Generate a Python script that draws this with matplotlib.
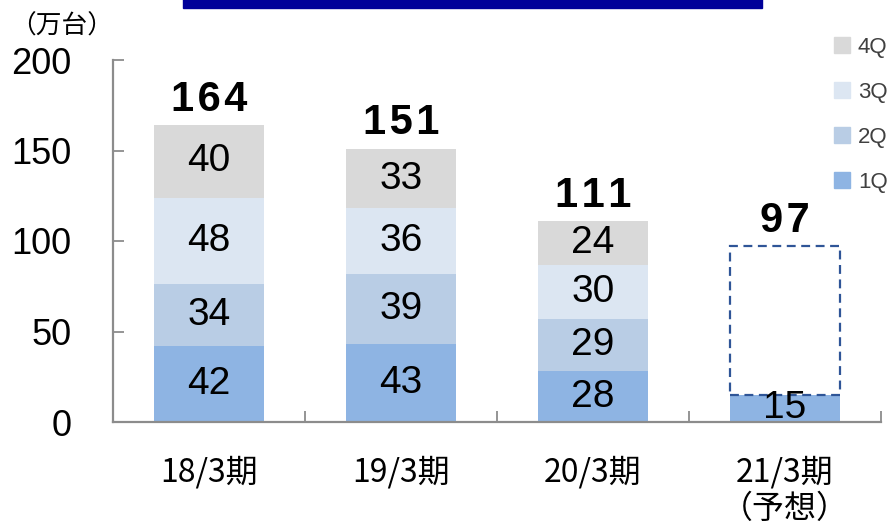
import matplotlib.pyplot as plt
from matplotlib.patches import Rectangle, Patch

plt.rcParams['font.family'] = ['Liberation Sans', 'Noto Sans CJK JP', 'DejaVu Sans']

periods = ['18/3期', '19/3期', '20/3期', '21/3期\n（予想）']
quarters = ['1Q', '2Q', '3Q', '4Q']
q1 = [42, 43, 28, 15]
q2 = [34, 39, 29, 0]
q3 = [48, 36, 30, 0]
q4 = [40, 33, 24, 0]
totals = [164, 151, 111, 97]
forecast_total = 97

colors = ['#8EB4E3', '#B9CDE5', '#DCE6F2', '#D9D9D9']

fig = plt.figure(figsize=(8.94, 5.25), dpi=100)
ax = fig.add_axes([113 / 894, 103 / 525, 768 / 894, 362 / 525])

x = list(range(len(periods)))
width = 0.573
bottom = [0] * len(periods)
for vals, col in zip([q1, q2, q3, q4], colors):
    ax.bar(x, vals, width, bottom=bottom, color=col, linewidth=0)
    for xi, v, b in zip(x, vals, bottom):
        if v > 0:
            ax.text(xi, b + v / 2, str(v), ha='center', va='center',
                    fontsize=28, color='black')
    bottom = [b + v for b, v in zip(bottom, vals)]

# forecast outline for the remaining quarters
ax.bar(x[3], forecast_total - q1[3], width, bottom=q1[3], fill=False,
       edgecolor='#2F5597', linestyle=(0, (4, 2.5)), linewidth=1.6)

# totals with a little letter spacing
for xi, t in zip(x, totals):
    ax.annotate('\u200a'.join(str(t)), (xi, t), xytext=(0, 4),
                textcoords='offset points', ha='center', va='bottom',
                fontsize=30, fontweight='bold')

ax.set_xlim(-0.5, 3.5)
ax.set_ylim(0, 200)
ax.set_yticks([0, 50, 100, 150, 200])
ax.tick_params(axis='y', direction='in', length=8, width=1.3, color='#8C8C8C',
               labelsize=26, pad=30)

ax.set_xticks(x)
ax.set_xticklabels(periods, fontsize=23, family=['Noto Sans CJK JP'],
                   linespacing=1.2, va='top')
ax.tick_params(axis='x', length=0, pad=24)
ax.set_xticks([0.5, 1.5, 2.5, 3.5], minor=True)
ax.tick_params(axis='x', which='minor', direction='in', length=8, width=1.3,
               color='#8C8C8C')

for side in ['top', 'right']:
    ax.spines[side].set_visible(False)
for side in ['left', 'bottom']:
    ax.spines[side].set_color('#8C8C8C')
    ax.spines[side].set_linewidth(1.6)

handles = [Patch(color=c) for c in colors][::-1]
ax.legend(handles, quarters[::-1], loc='upper left',
          bbox_to_anchor=(834 / 894, 1 - 37 / 525), bbox_transform=fig.transFigure,
          frameon=False, fontsize=16, handlelength=0.72, handleheight=0.72,
          handletextpad=0.35, labelspacing=1.08, borderpad=0, borderaxespad=0,
          labelcolor='#404040')

fig.text(10 / 894, 1 - 27 / 525, '（万台）', fontsize=18.5, va='center',
         family=['Noto Sans CJK JP'])

fig.patches.append(Rectangle((183 / 894, 1 - 8 / 525), 579 / 894, 20 / 525,
                             transform=fig.transFigure, color='#000099'))

fig.savefig('out.png', dpi=100)
